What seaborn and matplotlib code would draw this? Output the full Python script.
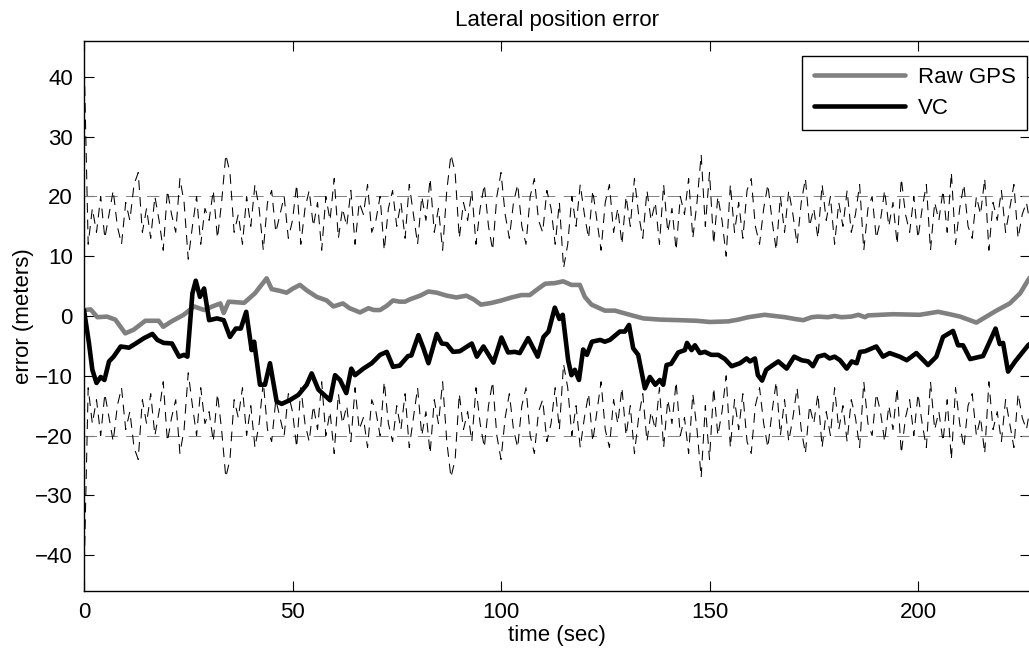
import numpy as np
import pandas as pd
import seaborn as sns
import matplotlib.pyplot as plt

# ---- data ----
gps_time = [0, 1.6, 3.2, 5.5, 7.5, 9.9, 11.9, 14.7, 17.9, 19.0, 21.0, 23.9, 26.4, 28.8,
            30.8, 32.7, 33.5, 34.7, 38.4, 41.0, 43.8, 45.0, 47.0, 48.6, 50.1, 51.8,
            53.4, 55.8, 58.2, 59.8, 62.1, 63.7, 66.2, 68.2, 69.5, 71.0, 72.6, 74.1,
            75.7, 77.0, 78.2, 80.6, 82.6, 84.6, 87.0, 89.3, 91.7, 93.4, 95.2, 97.8,
            100.1, 102.5, 104.9, 106.9, 109.0, 110.6, 112.9, 114.9, 116.9, 118.9,
            120.1, 121.7, 124.9, 127.3, 130.9, 134.1, 138.1, 142.9, 146.9, 150.1,
            154.5, 156.9, 159.3, 163.2, 165.6, 168.1, 170.5, 172.5, 174.5, 176.0,
            178.4, 180.0, 181.6, 184.0, 185.7, 187.3, 188.0, 194.0, 200.4, 204.8,
            207.6, 210.1, 214.0, 216.4, 218.8, 222.0, 224.5, 226.4, 228.0]
gps_err = [1.0, 1.1, -0.2, -0.1, -0.6, -2.9, -2.3, -0.8, -0.8, -1.8, -0.9, 0.2, 1.6, 1.0,
           1.6, 2.1, 0.5, 2.4, 2.2, 3.8, 6.3, 4.5, 4.2, 3.9, 4.6, 5.2,
           4.3, 3.2, 2.6, 1.6, 2.1, 1.3, 0.6, 1.3, 1.0, 1.0, 1.7, 2.6,
           2.4, 2.4, 2.8, 3.4, 4.1, 3.9, 3.4, 3.1, 3.4, 2.8, 1.9, 2.2,
           2.6, 3.1, 3.5, 3.5, 4.6, 5.4, 5.5, 5.8, 5.2, 5.2,
           3.2, 1.9, 0.9, 0.9, 0.2, -0.4, -0.6, -0.7, -0.8, -1.0,
           -0.9, -0.6, -0.2, 0.2, 0.0, -0.2, -0.5, -0.7, -0.2, -0.1,
           -0.2, 0.0, -0.2, -0.1, 0.2, -0.2, 0.1, 0.3, 0.2, 0.7,
           0.3, -0.1, -1.1, -0.1, 0.9, 2.1, 3.8, 6.0, 7.5]

vc_time = [0, 1.2, 2.0, 3.0, 4.0, 4.9, 6.0, 7.1, 8.8, 10.8, 12.4, 14.4, 16.4, 17.6, 19.1,
           21.1, 22.8, 24.0, 24.8, 26.0, 26.8, 27.8, 28.8, 30.0, 31.9, 33.5, 35.0,
           36.4, 37.6, 38.9, 40.2, 40.8, 42.2, 43.4, 44.6, 46.2, 47.4, 49.3, 51.4,
           53.4, 54.6, 56.2, 59.0, 60.2, 61.4, 62.9, 64.1, 65.0, 67.0, 69.0, 71.0,
           72.6, 74.1, 75.7, 77.7, 78.5, 80.2, 81.4, 82.6, 84.6, 85.8, 87.0, 88.5,
           90.1, 93.0, 94.2, 95.8, 98.2, 100.1, 101.7, 103.3, 104.5, 106.5, 108.8,
           110.2, 111.4, 112.9, 114.0, 114.8, 116.1, 116.9, 117.7, 118.7, 119.7,
           120.6, 121.8, 123.8, 124.9, 126.1, 128.5, 129.7, 130.7, 131.7, 132.9,
           134.5, 135.7, 137.0, 138.1, 138.9, 139.7, 140.8, 142.5, 144.1, 144.6,
           145.7, 146.5, 147.7, 148.9, 150.4, 152.1, 153.7, 155.3, 157.3, 158.9,
           159.7, 160.9, 161.6, 162.6, 163.6, 164.8, 166.5, 168.5, 170.3, 172.1,
           173.7, 174.8, 176.0, 177.6, 178.8, 180.0, 181.3, 182.9, 184.1, 185.3,
           186.1, 187.3, 190.0, 191.6, 193.2, 195.6, 197.3, 199.6, 202.4, 204.4,
           206.0, 208.4, 209.6, 210.8, 212.5, 215.6, 216.8, 218.6, 219.6, 220.4,
           221.6, 223.3, 224.9, 226.4, 228.0]
vc_err = [1.0, -4.6, -9.0, -11.2, -10.2, -10.7, -7.6, -6.8, -5.1, -5.3, -4.6, -3.7, -3.0, -4.0, -4.5,
          -4.6, -6.8, -6.5, -6.8, 3.8, 5.9, 3.2, 4.6, -0.7, -0.4, -0.7, -3.5,
          -2.1, -2.1, 0.7, -5.7, -4.3, -11.5, -11.5, -7.9, -14.3, -14.7, -14.1, -13.2,
          -11.5, -9.6, -12.3, -14.1, -9.9, -10.7, -12.9, -8.8, -9.9, -8.8, -7.9, -6.5,
          -6.0, -8.5, -8.3, -6.7, -6.6, -3.2, -5.4, -7.9, -3.0, -4.6, -4.7, -6.0,
          -5.9, -4.6, -6.8, -5.1, -7.8, -3.6, -6.1, -6.0, -6.2, -3.7, -6.8,
          -3.5, -2.6, 1.4, -0.5, 0.2, -7.4, -9.9, -9.0, -10.7, -5.6,
          -6.5, -4.3, -4.0, -4.3, -4.0, -2.6, -2.6, -1.5, -5.4, -6.5,
          -12.1, -10.2, -11.5, -10.7, -11.5, -8.2, -8.0, -6.1, -5.7, -4.5,
          -5.7, -4.9, -6.2, -6.0, -6.5, -6.5, -7.2, -8.4, -7.9, -7.1,
          -7.6, -7.1, -9.9, -10.8, -9.0, -8.4, -7.6, -8.8, -6.8, -7.4,
          -7.6, -8.4, -6.8, -6.5, -7.1, -6.8, -7.4, -8.8, -7.6, -7.9,
          -6.0, -5.9, -5.1, -6.8, -6.2, -6.8, -7.4, -6.2, -8.2, -6.8,
          -3.5, -2.5, -4.9, -4.9, -7.2, -6.7, -4.9, -2.1, -4.7, -4.5,
          -9.3, -7.6, -6.2, -4.9, -4.0]

# noisy bound (plotted as +/-), one sample per second
bound_time = list(range(0, 228))
bound = [44, 12, 18, 14, 20, 13, 17, 21, 15, 12, 19, 16, 22, 24, 14,
         18, 13, 20, 16, 11, 21, 17, 14, 23, 19, 9.5, 15, 20, 12, 18,
         16, 21, 13, 19, 27, 24, 14, 17, 12, 20, 15, 22, 18, 11, 19,
         21, 14, 17, 20, 13, 16, 22, 12, 18, 21, 15, 19, 11, 20, 16,
         23, 13, 18, 15, 21, 12, 19, 17, 22, 14, 16, 20, 11, 18, 21,
         15, 19, 13, 22, 17, 12, 20, 16, 23, 14, 18, 11, 21, 27, 24,
         13, 19, 16, 21, 12, 18, 22, 15, 11, 20, 24, 17, 13, 19, 22,
         15, 12, 20, 23, 16, 14, 21, 18, 12, 19, 8, 12, 20, 15, 22,
         17, 13, 21, 16, 11, 19, 22, 14, 18, 12, 20, 15, 23, 17, 13,
         21, 16, 19, 12, 22, 14, 18, 11, 20, 17, 23, 13, 19, 27, 15,
         24, 12, 20, 16, 10, 22, 14, 19, 13, 21, 23, 15, 12, 18, 22,
         16, 11, 20, 14, 21, 17, 12, 19, 23, 15, 18, 13, 22, 16, 20,
         12, 19, 15, 21, 14, 17, 22, 11, 18, 20, 13, 16, 21, 15, 19,
         12, 23, 17, 14, 20, 13, 18, 22, 11, 19, 16, 21, 14, 24, 12,
         18, 22, 15, 13, 20, 17, 23, 11, 19, 16, 21, 14, 18, 22, 13, 17,
         19, 15]

x_ticks = [0, 50, 100, 150, 200]
y_ticks = [-40, -30, -20, -10, 0, 10, 20, 30, 40]

# ---- style ----
sns.set_style("ticks")
plt.rcParams['font.family'] = ['Liberation Sans', 'DejaVu Sans']
plt.rcParams['lines.scale_dashes'] = False
plt.rcParams['text.color'] = 'black'
plt.rcParams['axes.labelcolor'] = 'black'
plt.rcParams['xtick.color'] = 'black'
plt.rcParams['ytick.color'] = 'black'
FS = 16

fig = plt.figure(figsize=(10.29, 6.52), dpi=100)
W, H = 1029, 652
left, right, top, bottom = 84, 1030, 41, 591
ax = fig.add_axes([left / W, 1 - bottom / H, (right - left) / W, (bottom - top) / H])

bnd = pd.DataFrame({"t": bound_time, "b": bound})
gps = pd.DataFrame({"t": gps_time, "err": gps_err})
vc = pd.DataFrame({"t": vc_time, "err": vc_err})

for lvl in (20, -20):
    ax.axhline(lvl, color="0.5", lw=0.7, linestyle=(0, (9, 6)), zorder=1)

sns.lineplot(x=bnd["t"], y=bnd["b"], ax=ax, color="black", lw=0.75,
             linestyle=(0, (7, 5)), legend=False, zorder=2)
sns.lineplot(x=bnd["t"], y=-bnd["b"], ax=ax, color="black", lw=0.75,
             linestyle=(0, (7, 5)), legend=False, zorder=2)
sns.lineplot(data=gps, x="t", y="err", ax=ax, color="#808080", lw=3.3,
             label="Raw GPS", zorder=3)
sns.lineplot(data=vc, x="t", y="err", ax=ax, color="black", lw=3.3,
             label="VC", zorder=4)

ax.set_xlim(0, (right - left) / 4.17)
ax.set_ylim(-46, 46)
ax.set_xticks(x_ticks)
ax.set_yticks(y_ticks)
ax.tick_params(direction="in", length=7, width=0.8, top=True, right=True,
               labelsize=FS, pad=8, colors="black")
for s in ax.spines.values():
    s.set_linewidth(1.0)
    s.set_color("black")

ax.set_title("Lateral position error", fontsize=FS, pad=11, color="black")
ax.set_xlabel("time (sec)", fontsize=FS, labelpad=1)
ax.set_ylabel("error (meters)", fontsize=FS, labelpad=1)

leg = ax.legend(loc="upper right", bbox_to_anchor=(1027 / W, 1 - 56 / H),
                bbox_transform=fig.transFigure, borderaxespad=0,
                fancybox=False, edgecolor="black", framealpha=1,
                fontsize=FS, handlelength=4.1, handletextpad=0.6,
                labelspacing=0.45, borderpad=0.5)
leg.get_frame().set_linewidth(1.0)
for txt in leg.get_texts():
    txt.set_color("black")

fig.savefig("out.png", dpi=100)
